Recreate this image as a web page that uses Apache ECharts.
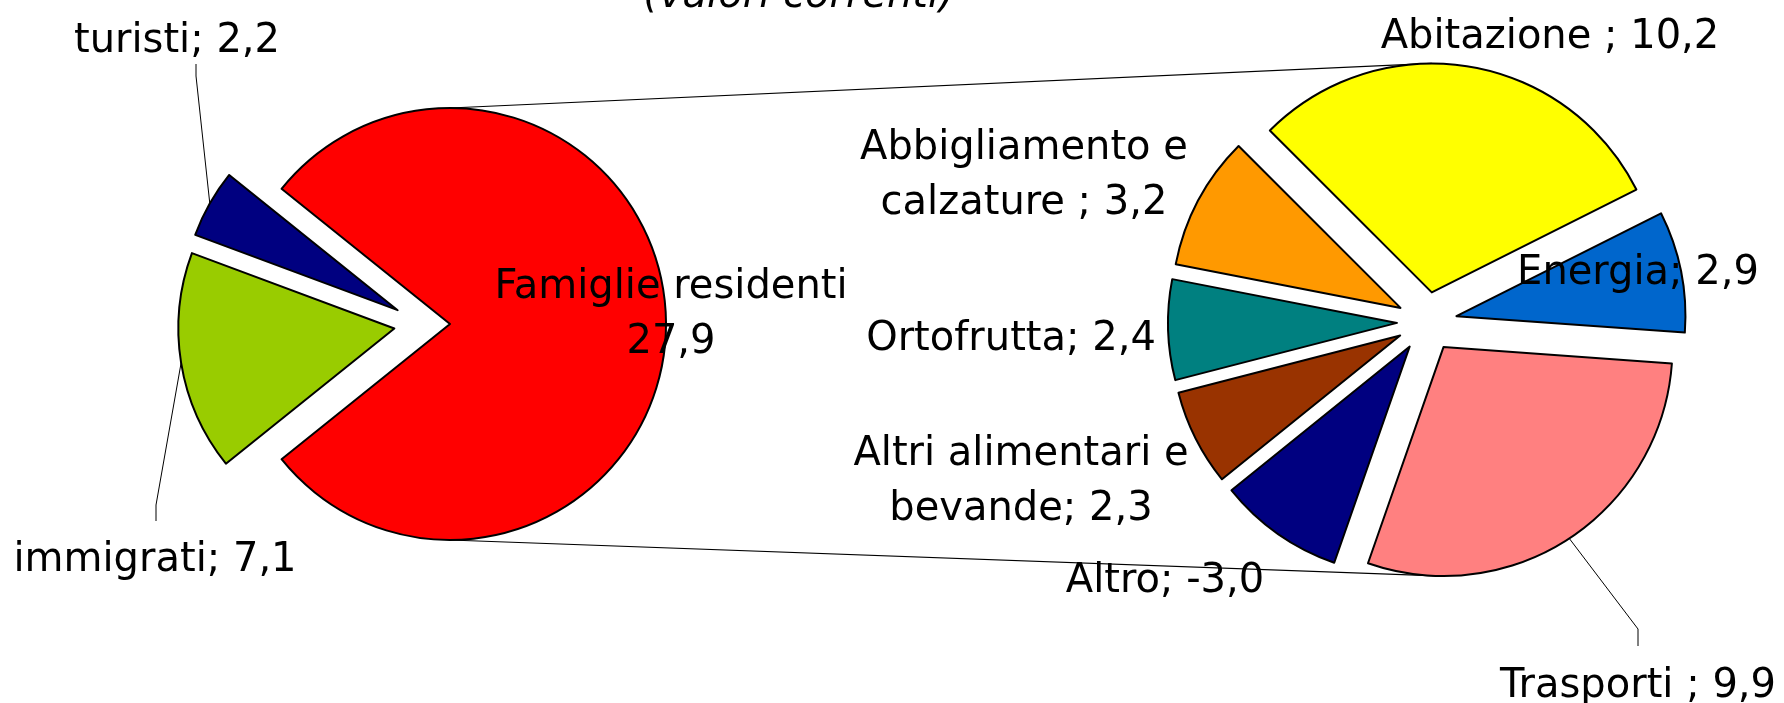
<!DOCTYPE html>
<html lang="it">
<head>
<meta charset="utf-8"/>
<title>Famiglie residenti, turisti, immigrati (valori correnti)</title>
<script src="https://cdn.jsdelivr.net/npm/echarts@6/dist/echarts.min.js"></script>
<style>
    html, body { margin:0; height:100%; background:#fff; }
    #main { width:1784px; height:703px; }
</style>
</head>
<body>
<div id="main"></div>
<script>
// primo grafico
var mainNames = ['immigrati', 'turisti'];
var mainValues = [7.1, 2.2];
var mainColors = ['#99CC00', '#000080'];
var otherName = 'Famiglie residenti';
var otherColor = '#FF0000';

// secondo grafico: dettaglio delle famiglie residenti
var detailNames = ['Abitazione ', 'Energia', 'Trasporti ', 'Altro', 'Altri alimentari e\nbevande', 'Ortofrutta', 'Abbigliamento e\ncalzature '];
var detailValues = [10.2, 2.9, 9.9, -3.0, 2.3, 2.4, 3.2];
var detailColors = ['#FFFF00', '#0066CC', '#FF8080', '#000080', '#993300', '#008080', '#FF9900'];

// layout
var pie1 = {cx: 422, cy: 324, r: 216, off: 28};
var pie2 = {cx: 1427, cy: 322, r: 229, off: 30, start: 135};
var FONT = 'DejaVu Sans';

var labelPos = [
    // serie 0: famiglie, immigrati, turisti
    [[671, 315], [155, 561], [177, 42]],
    // serie 1
    [[1550, 38], [1638, 274], [1638, 687], [1165, 582], [1021, 482], [1011, 340], [1024, 176]]
];
var labelBend = [
    {1: [[156, 505], [156, 521]], 2: [[196, 76], [196, 64]]},
    {2: [[1638, 629], [1638, 646]]}
];

function fmt(v) { return v.toFixed(1).replace('.', ','); }
function sum(a) { return a.reduce(function (s, v) { return s + v; }, 0); }
function absSum(a) { return a.reduce(function (s, v) { return s + Math.abs(v); }, 0); }

var otherSize = absSum(detailValues);   // Excel usa i valori assoluti
var otherValue = sum(detailValues);
var firstVals = [otherSize].concat(mainValues);
pie1.start = 180 * otherSize / absSum(firstVals);

function slices(vals, start) {
    var tot = absSum(vals), a = start, out = [];
    vals.forEach(function (v) {
        var span = 360 * Math.abs(v) / tot;
        out.push({start: a, span: span, mid: a - span / 2});
        a -= span;
    });
    return out;
}
function sliceAt(sls, theta) {
    for (var i = 0; i < sls.length; i++) {
        var d = ((sls[i].start - theta) % 360 + 360) % 360;
        if (d <= sls[i].span) return sls[i];
    }
    return sls[0];
}
function rimPoint(p, sl, theta) {
    var m = sl.mid * Math.PI / 180, t = theta * Math.PI / 180;
    return [p.cx + p.off * Math.cos(m) + p.r * Math.cos(t),
            p.cy - p.off * Math.sin(m) - p.r * Math.sin(t)];
}

var s1 = slices(firstVals, pie1.start);
var s2 = slices(detailValues, pie2.start);
var geo = [{p: pie1, s: s1}, {p: pie2, s: s2}];

function buildData(names, vals, shown, colors) {
    return names.map(function (n, i) {
        return {name: n, value: Math.abs(vals[i]), shown: shown[i], itemStyle: {color: colors[i]}};
    });
}
var firstData = buildData([otherName].concat(mainNames), firstVals, [otherValue].concat(mainValues), [otherColor].concat(mainColors));
var detailData = buildData(detailNames, detailValues, detailValues, detailColors);

function labelText(p) {
    var v = fmt(p.data.shown);
    return p.name === otherName ? p.name + '\n' + v : p.name + '; ' + v;
}
function layoutFor(si) {
    return function (params) {
        var i = params.dataIndex, pos = labelPos[si][i], res = {
            x: pos[0], y: pos[1], align: 'center', verticalAlign: 'middle'
        };
        if (labelBend[si][i]) {
            var g = geo[si], sl = g.s[i];
            res.labelLinePoints = [rimPoint(g.p, sl, sl.mid)].concat(labelBend[si][i]);
        }
        return res;
    };
}

// fette esplose (selezionate), senza etichette
function slicesSeries(p, data) {
    return {
        type: 'pie', center: [p.cx, p.cy], radius: p.r, startAngle: p.start, clockwise: true,
        selectedMode: 'multiple', selectedOffset: p.off,
        data: data.map(function (d) { return echarts.util.merge({selected: true}, d); }),
        itemStyle: {borderColor: '#000', borderWidth: 2},
        label: {show: false}, labelLine: {show: false},
        emphasis: {disabled: true}, silent: true
    };
}
// stessa torta trasparente che porta le etichette
function labelSeries(p, data, si) {
    return {
        type: 'pie', center: [p.cx, p.cy], radius: p.r, startAngle: p.start, clockwise: true,
        avoidLabelOverlap: false, silent: true,
        data: data.map(function (d, i) {
            return {name: d.name, value: d.value, shown: d.shown, labelLine: {show: !!labelBend[si][i]}};
        }),
        itemStyle: {color: 'rgba(0,0,0,0)', borderWidth: 0},
        label: {show: true, position: 'outside', color: '#000', fontFamily: FONT, fontSize: 40, lineHeight: 55, formatter: labelText},
        labelLine: {lineStyle: {color: '#000', width: 1}},
        labelLayout: layoutFor(si),
        emphasis: {disabled: true}
    };
}

var top1 = rimPoint(pie1, sliceAt(s1, 90), 90), top2 = rimPoint(pie2, sliceAt(s2, 90), 90);
var bot1 = rimPoint(pie1, sliceAt(s1, 270), 270), bot2 = rimPoint(pie2, sliceAt(s2, 270), 270);

var myChart = echarts.init(document.getElementById('main'));
var option = {
    animation: false,
    backgroundColor: '#fff',
    title: {
        text: '(valori correnti)',
        left: 794, top: -28, textAlign: 'center',
        textStyle: {fontFamily: FONT, fontSize: 40, fontStyle: 'italic', fontWeight: 'normal', color: '#000'}
    },
    graphic: [
        {type: 'line', z: 1, shape: {x1: top1[0], y1: top1[1], x2: top2[0], y2: top2[1]}, style: {stroke: '#000', lineWidth: 1.2}},
        {type: 'line', z: 1, shape: {x1: bot1[0], y1: bot1[1], x2: bot2[0], y2: bot2[1]}, style: {stroke: '#000', lineWidth: 1.2}}
    ],
    series: [
        slicesSeries(pie1, firstData),
        slicesSeries(pie2, detailData),
        labelSeries(pie1, firstData, 0),
        labelSeries(pie2, detailData, 1)
    ]
};
myChart.setOption(option);
</script>
</body>
</html>
